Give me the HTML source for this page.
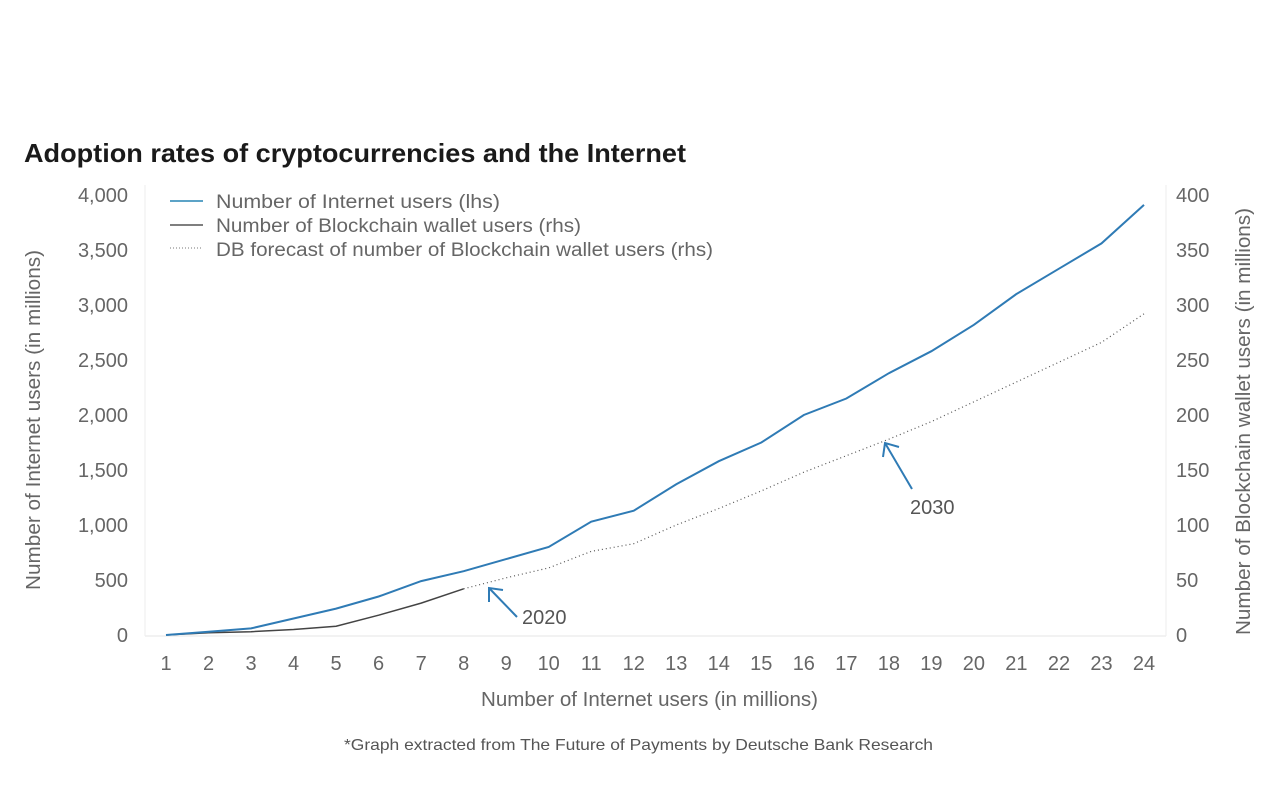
<!DOCTYPE html>
<html><head><meta charset="utf-8"><style>
html,body{margin:0;padding:0;background:#fff;}
body{width:1272px;height:805px;overflow:hidden;font-family:"Liberation Sans",sans-serif;}
</style></head><body>
<svg width="1272" height="805" xmlns="http://www.w3.org/2000/svg">
<rect x="0" y="0" width="1272" height="805" fill="#fff"/>
<text x="24" y="162" font-size="26" font-weight="bold" fill="#1a1a1a" textLength="662" lengthAdjust="spacingAndGlyphs">Adoption rates of cryptocurrencies and the Internet</text>
<g id="axes"></g>
<g id="series"></g>
<g font-size="19" fill="#666">
  <line x1="170" y1="201" x2="203" y2="201" stroke="#5ca3c7" stroke-width="2"/>
  <text x="216" y="208" textLength="284" lengthAdjust="spacingAndGlyphs">Number of Internet users (lhs)</text>
  <line x1="170" y1="225" x2="203" y2="225" stroke="#333" stroke-width="1.2"/>
  <text x="216" y="232" textLength="365" lengthAdjust="spacingAndGlyphs">Number of Blockchain wallet users (rhs)</text>
  <line x1="170" y1="248" x2="203" y2="248" stroke="#777" stroke-width="1" stroke-dasharray="1,2"/>
  <text x="216" y="256" textLength="497" lengthAdjust="spacingAndGlyphs">DB forecast of number of Blockchain wallet users (rhs)</text>
</g>
<g>
  <line x1="517" y1="617" x2="489" y2="588" stroke="#2f7bb5" stroke-width="2"/>
  <polyline points="489,602 489,588 503,590" fill="none" stroke="#2f7bb5" stroke-width="2"/>
  <text x="522" y="624" font-size="20" fill="#555">2020</text>
</g>
<g>
  <line x1="912" y1="489" x2="885" y2="443" stroke="#2f7bb5" stroke-width="2"/>
  <polyline points="883,457 885,443 899,447" fill="none" stroke="#2f7bb5" stroke-width="2"/>
  <text x="910" y="514" font-size="20" fill="#555">2030</text>
</g>
<text x="481" y="706" font-size="20" fill="#666" textLength="337" lengthAdjust="spacingAndGlyphs">Number of Internet users (in millions)</text>
<text transform="translate(40,590) rotate(-90)" font-size="20" fill="#666" textLength="340" lengthAdjust="spacingAndGlyphs">Number of Internet users (in millions)</text>
<text transform="translate(1250,635) rotate(-90)" font-size="20" fill="#666" textLength="427" lengthAdjust="spacingAndGlyphs">Number of Blockchain wallet users (in millions)</text>
<text x="344" y="750" font-size="16" fill="#555" textLength="589" lengthAdjust="spacingAndGlyphs">*Graph extracted from The Future of Payments by Deutsche Bank Research</text>
</svg>
<script>
const categories = [1,2,3,4,5,6,7,8,9,10,11,12,13,14,15,16,17,18,19,20,21,22,23,24];
const internetUsers = [0,30,60,150,240,350,490,580,690,800,1030,1130,1370,1580,1750,2000,2150,2380,2580,2820,3100,3330,3560,3910];
const walletCats = [1,2,3,4,5,6,7,8];
const walletUsers = [0,2,3,5,8,18,29,42];
const forecastCats = [8,9,10,11,12,13,14,15,16,17,18,19,20,21,22,23,24];
const forecastUsers = [42,52,61,76,83,100,115,131,148,163,178,194,212,230,248,266,292];
const leftTicks = [0,500,1000,1500,2000,2500,3000,3500,4000];
const rightTicks = [0,50,100,150,200,250,300,350,400];

const NS = "http://www.w3.org/2000/svg";
const X0 = 166, X1 = 1144, Y0 = 635, Y1 = 195;
const xs = c => X0 + (c - 1) * (X1 - X0) / 23;
const yl = v => Y0 - v * (Y0 - Y1) / 4000;
const yr = v => Y0 - v * (Y0 - Y1) / 400;
const axes = document.getElementById('axes');
const series = document.getElementById('series');
function mk(tag, attrs, parent, txt){const e=document.createElementNS(NS,tag);for(const k in attrs)e.setAttribute(k,attrs[k]);if(txt!==undefined)e.textContent=txt;parent.appendChild(e);return e;}

let e = mk('line',{x1:145,y1:185,x2:145,y2:636,stroke:'#eee','stroke-width':1},axes);


e = mk('line',{x1:1166,y1:185,x2:1166,y2:636,stroke:'#eee','stroke-width':1},axes);


e = mk('line',{x1:145,y1:636,x2:1166,y2:636,stroke:'#eee','stroke-width':1.5},axes);



leftTicks.forEach(v=>{
  const t = mk('text',{x:128,y:yl(v)+7,'font-size':20,fill:'#666','text-anchor':'end'},axes,v.toLocaleString('en-US'));
  
  
});
rightTicks.forEach(v=>{
  const t = mk('text',{x:1176,y:yr(v)+7,'font-size':20,fill:'#666'},axes,String(v));
  
  
});
categories.forEach(c=>{
  const t = mk('text',{x:xs(c),y:670,'font-size':20,fill:'#666','text-anchor':'middle'},axes,String(c));
  
  
});

let p = mk('polyline',{points:forecastCats.map((c,i)=>xs(c)+','+yr(forecastUsers[i])).join(' '),fill:'none',stroke:'#555','stroke-width':1.2,'stroke-dasharray':'1,3'},series);


p = mk('polyline',{points:walletCats.map((c,i)=>xs(c)+','+yr(walletUsers[i])).join(' '),fill:'none',stroke:'#444','stroke-width':1.5},series);


p = mk('polyline',{points:categories.map((c,i)=>xs(c)+','+yl(internetUsers[i])).join(' '),fill:'none',stroke:'#2f7bb5','stroke-width':2},series);


</script>
</body></html>
